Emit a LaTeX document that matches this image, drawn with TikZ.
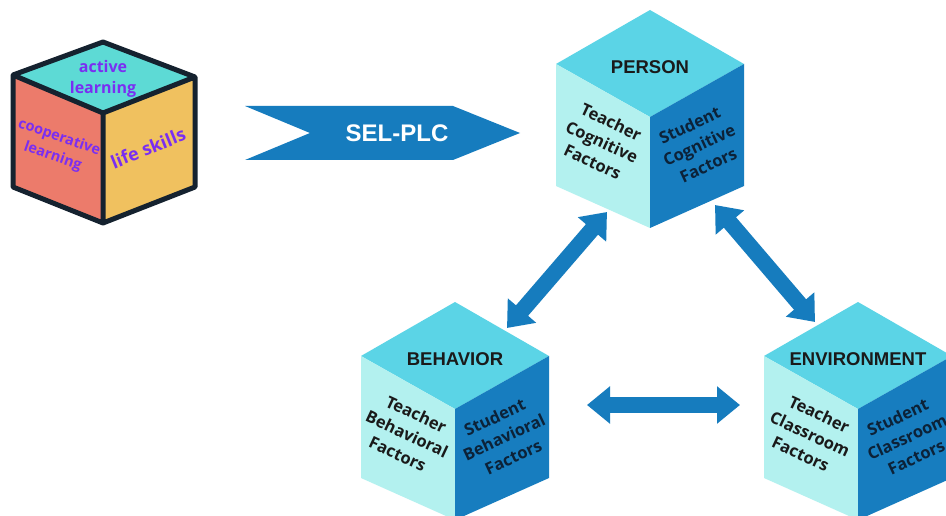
\documentclass[tikz,border=0pt]{standalone}
\usepackage{fontspec}
\setmainfont{Open Sans}
\newfontfamily\labelfont{Liberation Sans}
\usepackage{tikz}
\usetikzlibrary{arrows.meta,positioning,calc}

\definecolor{topcyan}{HTML}{5BD4E6}
\definecolor{palecyan}{HTML}{B3F1EF}
\definecolor{deepblue}{HTML}{177DBF}
\definecolor{arrowblue}{HTML}{167CBE}
\definecolor{navytext}{HTML}{0C2238}
\definecolor{inktext}{HTML}{1A1A1A}
\definecolor{outline}{HTML}{15222F}
\definecolor{tealtop}{HTML}{5DDAD5}
\definecolor{salmon}{HTML}{EC7B6B}
\definecolor{mustard}{HTML}{F0C15F}
\definecolor{skilltext}{HTML}{7A2EF2}

\tikzset{
  cubelabel/.style={inner sep=0pt,text=inktext,font=\labelfont\bfseries\fontsize{18.5}{20}\selectfont},
  facetext/.style={inner sep=0pt,align=center,font=\bfseries\fontsize{16.5}{22}\selectfont},
  skill/.style={inner sep=0pt,align=center,text=skilltext,font=\bfseries\fontsize{16}{21}\selectfont},
  biarrow/.style={draw=arrowblue,line width=16pt,
    {Triangle[width=36pt,length=23pt]}-{Triangle[width=36pt,length=23pt]}},
  % one blue cube: #1 top label, #2 left face, #3 right face
  pics/bigcube/.style n args={3}{code={
    \coordinate (-top) at (0,0);
    \fill[topcyan] (0,0) -- (-94,54) -- (0,107) -- (94,54) -- cycle;
    \fill[palecyan] (-94,54) -- (0,107) -- (0,218) -- (-94,176) -- cycle;
    \fill[deepblue] (94,54) -- (0,107) -- (0,218) -- (94,176) -- cycle;
    \node[cubelabel] (-lbl) at (0,57) {#1};
    \node[facetext,text=inktext,rotate=-25] (-left) at (-48,132) {#2};
    \node[facetext,text=navytext,rotate=25] (-right) at (49,135) {#3};
  }}
}

\begin{document}
\begin{tikzpicture}[x=1pt,y=-1pt]
\clip (0,0) rectangle (946,516);
\fill[white] (0,0) rectangle (946,516);

% small skills cube
\fill[tealtop] (103,42) -- (13,75) -- (103,113) -- (195,77) -- cycle;
\fill[salmon] (13,75) -- (103,113) -- (103,223) -- (13,187) -- cycle;
\fill[mustard] (195,77) -- (103,113) -- (103,223) -- (195,187) -- cycle;
\draw[outline,line width=5pt,line join=round]
  (103,42) -- (13,75) -- (13,187) -- (103,223) -- (195,187) -- (195,77) -- cycle
  (13,75) -- (103,113) -- (195,77)
  (103,113) -- (103,223);
\node[skill] (act) at (103,79) {active\\learning};
\node[skill,rotate=-19,font=\bfseries\fontsize{14.5}{20}\selectfont] (coop) at (56,147) {cooperative\\learning};
\node[skill,rotate=22,font=\bfseries\fontsize{18}{21}\selectfont] (life) at (148,148) {life skills};

% SEL-PLC banner
\fill[arrowblue] (245,106) -- (453,106) -- (520,133) -- (453,160) -- (245,160) -- (310,133) -- cycle;
\node[text=white,font=\labelfont\bfseries\fontsize{24}{26}\selectfont] (sel) at (397,133) {SEL-PLC};

% the three factor cubes
\pic (per) at (650,10) {bigcube={PERSON}{Teacher\\Cognitive\\Factors}{Student\\Cognitive\\Factors}};
\pic (beh) at (455,302) {bigcube={BEHAVIOR}{Teacher\\Behavioral\\Factors}{Student\\Behavioral\\Factors}};
\pic (env) at (858,302) {bigcube={ENVIRONMENT}{Teacher\\Classroom\\Factors}{Student\\Classroom\\Factors}};

% arrow ends
\coordinate (per-sw) at (607,212);
\coordinate (beh-ne) at (507,328);
\coordinate (per-se) at (715,205);
\coordinate (env-nw) at (815,322);
\coordinate (beh-e) at (587,405);
\coordinate (env-w) at (740,405);

\draw[biarrow] (per-sw) -- (beh-ne);
\draw[biarrow] (per-se) -- (env-nw);
\draw[biarrow] (beh-e) -- (env-w);
\end{tikzpicture}
\end{document}
